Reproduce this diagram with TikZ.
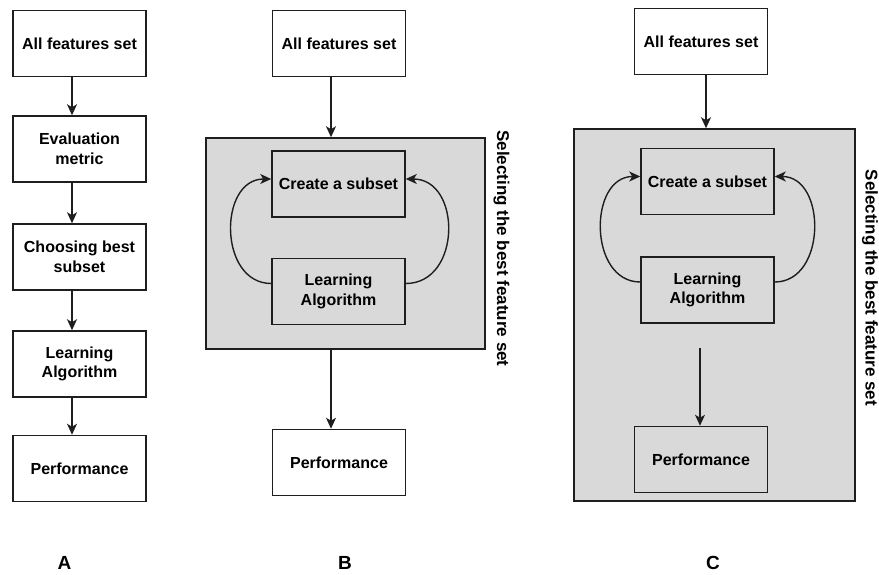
\documentclass[tikz,border=0pt]{standalone}
\usepackage{fontspec}
\setmainfont{Liberation Sans}
\usetikzlibrary{arrows.meta}
\definecolor{linec}{RGB}{30,30,30}
\definecolor{panel}{RGB}{217,217,217}
\tikzset{
  box/.style={draw=linec, line width=1.5pt, fill=white, minimum width=133pt, minimum height=66pt, inner sep=2pt, align=center, font=\fontsize{16}{19.5}\selectfont\bfseries},
  inbox/.style={box, fill=none},
  panelbox/.style={draw=linec, line width=1.5pt, fill=panel, inner sep=0pt},
  arr/.style={draw=linec, line width=1.4pt, -{Stealth[length=11pt,width=10pt,inset=3pt]}},
  side/.style={font=\fontsize{17}{20}\selectfont\bfseries, rotate=-90},
  letter/.style={font=\fontsize{19}{22}\selectfont\bfseries}
}
\begin{document}
\begin{tikzpicture}[x=1pt,y=-1pt]
\useasboundingbox[fill=white] (0,0) rectangle (879,575);
% ---------- A ----------
\node[box] (a1) at (79.5,43.5) {All features set};
\node[box] (a2) at (79.5,149) {Evaluation\\metric};
\node[box] (a3) at (79.5,257) {Choosing best\\subset};
\node[box] (a4) at (79.5,364) {Learning\\Algorithm};
\node[box] (a5) at (79.5,468.5) {Performance};
\draw[arr] (a1.south -| 72,0) -- (a2.north -| 72,0);
\draw[arr] (a2.south -| 72,0) -- (a3.north -| 72,0);
\draw[arr] (a3.south -| 72,0) -- (a4.north -| 72,0);
\draw[arr] (a4.south -| 72,0) -- (a5.north -| 72,0);
\node[letter] (la) at (64.5,563) {A};
% ---------- B ----------
\node[panelbox, minimum width=279pt, minimum height=211pt] (bp) at (345.5,243.5) {};
\node[box] (b1) at (339,43.5) {All features set};
\node[inbox] (b2) at (338.5,184) {Create a subset};
\node[inbox] (b3) at (338.5,291.5) {Learning\\Algorithm};
\node[box] (b4) at (339,462.5) {Performance};
\draw[arr] (b1.south -| 331,0) -- (bp.north -| 331,0);
\draw[arr] (bp.south -| 331,0) -- (b4.north -| 331,0);
\draw[arr] ([yshift=8pt]b3.west) .. controls +(-53,0) and +(-53,0) .. ([yshift=5pt]b2.west);
\draw[arr] ([yshift=8pt]b3.east) .. controls +(56,0) and +(56,0) .. ([yshift=5pt]b2.east);
\node[side] (bs) at (501.5,248.5) {Selecting the best feature set};
\node[letter] (lb) at (345,563) {B};
% ---------- C ----------
\node[panelbox, minimum width=281pt, minimum height=372pt] (cp) at (714.5,315) {};
\node[box] (c1) at (701,41.5) {All features set};
\node[inbox] (c2) at (707.5,181.5) {Create a subset};
\node[inbox] (c3) at (707.5,290) {Learning\\Algorithm};
\node[inbox] (c4) at (701,459.5) {Performance};
\coordinate (cs) at (700,348);
\draw[arr] (c1.south -| 706,0) -- (cp.north -| 706,0);
\draw[arr] (cs) -- (c4.north -| 700,0);
\draw[arr] ([yshift=8pt]c3.west) .. controls +(-52,0) and +(-52,0) .. ([yshift=5pt]c2.west);
\draw[arr] ([yshift=8pt]c3.east) .. controls +(52,0) and +(52,0) .. ([yshift=5pt]c2.east);
\node[side] (csd) at (870,288) {Selecting the best feature set};
\node[letter] (lc) at (713,563) {C};
\end{tikzpicture}
\end{document}
